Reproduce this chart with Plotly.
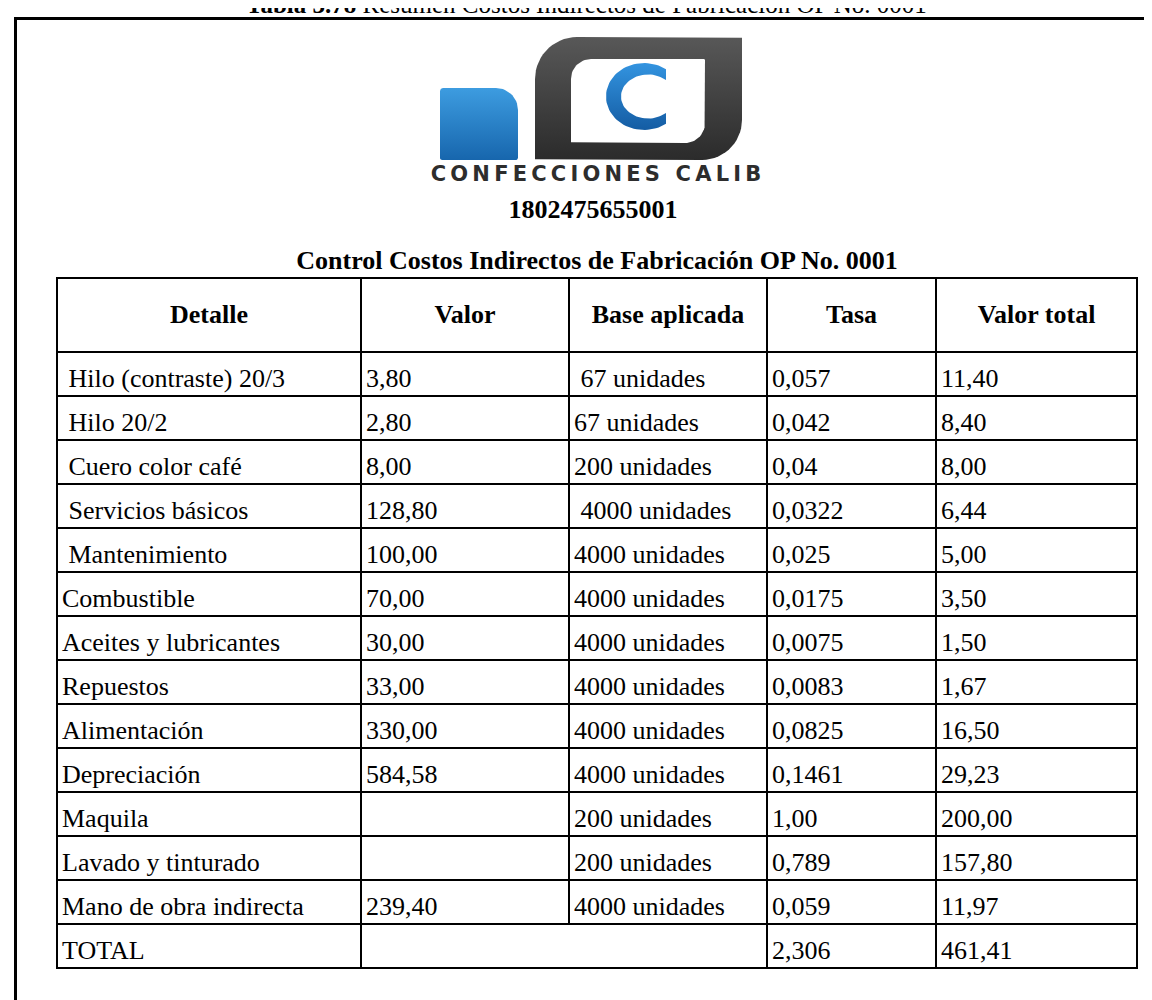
import numpy as np
import plotly.graph_objects as go

# ---------------- data ----------------
caption = "<b>Tabla 3.78</b> Resumen Costos Indirectos de Fabricación OP No. 0001"
company = "CONFECCIONES CALIB"
ruc = "1802475655001"
title = "Control Costos Indirectos de Fabricación OP No. 0001"

headers = ["Detalle", "Valor", "Base aplicada", "Tasa", "Valor total"]

detalle = ["\u00a0Hilo (contraste) 20/3", "\u00a0Hilo 20/2", "\u00a0Cuero color café",
           "\u00a0Servicios básicos", "\u00a0Mantenimiento", "Combustible",
           "Aceites y lubricantes", "Repuestos", "Alimentación", "Depreciación",
           "Maquila", "Lavado y tinturado", "Mano de obra indirecta", "TOTAL"]
valor = ["3,80", "2,80", "8,00", "128,80", "100,00", "70,00", "30,00", "33,00",
         "330,00", "584,58", "", "", "239,40", ""]
base_aplicada = ["\u00a067 unidades", "67 unidades", "200 unidades", "\u00a04000 unidades",
                 "4000 unidades", "4000 unidades", "4000 unidades", "4000 unidades",
                 "4000 unidades", "4000 unidades", "200 unidades", "200 unidades",
                 "4000 unidades", ""]
tasa = ["0,057", "0,042", "0,04", "0,0322", "0,025", "0,0175", "0,0075", "0,0083",
        "0,0825", "0,1461", "1,00", "0,789", "0,059", "2,306"]
valor_total = ["11,40", "8,40", "8,00", "6,44", "5,00", "3,50", "1,50", "1,67",
               "16,50", "29,23", "200,00", "157,80", "11,97", "461,41"]

columns = [detalle, valor, base_aplicada, tasa, valor_total]

# ---------------- layout / style ----------------
W, H = 1152, 1000
table_left = 49
col_widths = [304, 208, 198, 169, 201]
table_top = 270
header_h = 74
row_h = 44
merged_last_row = (1, 2)   # TOTAL row: Valor + Base aplicada merged
cell_pad = 5
text_dy = 6
FONT = "Liberation Serif"
FS = 26

col_edges = table_left + np.concatenate([[0], np.cumsum(col_widths)])
n_rows = len(detalle)
row_edges = table_top + header_h + row_h * np.arange(n_rows + 1)
row_edges = np.concatenate([[table_top], row_edges])

fig = go.Figure()

# ---------------- frame ----------------
frame_x = [7.5, 7.5, None, 6, W + 5]
frame_y = [9, H + 5, None, 10.5, 10.5]
fig.add_trace(go.Scatter(x=frame_x, y=frame_y, mode="lines",
                         line=dict(color="black", width=3), hoverinfo="skip",
                         cliponaxis=False))

# ---------------- logo ----------------
def rrect(x0, y0, x1, y1, r, n=16):
    tl, tr, br, bl = r
    pts = []
    specs = [((x0 + tl, y0 + tl), tl, np.pi, 1.5 * np.pi),
             ((x1 - tr, y0 + tr), tr, 1.5 * np.pi, 2 * np.pi),
             ((x1 - br, y1 - br), br, 0, 0.5 * np.pi),
             ((x0 + bl, y1 - bl), bl, 0.5 * np.pi, np.pi)]
    for (cx, cy), rad, a0, a1 in specs:
        t = np.linspace(a0, a1, n)
        pts += [(cx + rad * np.cos(a), cy + rad * np.sin(a)) for a in t]
    pts.append(pts[0])
    xs, ys = zip(*pts)
    return list(xs), list(ys)

def fill_shape(xs, ys, c_top, c_bot, y_top, y_bot):
    fig.add_trace(go.Scatter(
        x=xs, y=ys, mode="lines", fill="toself", line=dict(width=0),
        fillgradient=dict(type="vertical", colorscale=[[0, c_top], [1, c_bot]],
                          start=y_top, stop=y_bot),
        hoverinfo="skip"))

# blue block
bx, by = rrect(432, 80, 510, 152, (3, 22, 2, 2))
fill_shape(bx, by, "#3d9ce0", "#1766ad", 80, 152)
# dark frame
dx, dy = rrect(527, 29, 734, 152, (42, 1, 40, 1))
fill_shape(dx, dy, "#585858", "#2b2b2b", 29, 152)
# inner white
ix, iy = rrect(563, 51, 697, 135, (20, 1, 20, 1))
fig.add_trace(go.Scatter(x=ix, y=iy, mode="lines", fill="toself",
                         fillcolor="white", line=dict(width=0), hoverinfo="skip"))
# blue C (outer and inner elliptical contours, open on the right)
ocx, ocy, orx, ory = 636, 88.5, 38, 33.5
icx, icy, irx, iry = 640, 88.5, 27, 22
tip_x = 658
a_out = np.arccos((tip_x - ocx) / orx)
a_in = np.arccos((tip_x - icx) / irx)
t_out = np.linspace(a_out, 2 * np.pi - a_out, 60)
t_in = np.linspace(2 * np.pi - a_in, a_in, 60)
c_x = list(ocx + orx * np.cos(t_out)) + list(icx + irx * np.cos(t_in))
c_y = list(ocy - ory * np.sin(t_out)) + list(icy - iry * np.sin(t_in))
c_x.append(c_x[0]); c_y.append(c_y[0])
fill_shape(c_x, c_y, "#3394e0", "#145ca3", ocy - ory, ocy + ory)

# company name
thin = "\u2009"
company_txt = thin.join(list(company))
fig.add_trace(go.Scatter(x=[588], y=[167.5], mode="text", text=[company_txt],
                         textposition="middle center",
                         textfont=dict(family="DejaVu Sans", size=21, color="#2d2d2d",
                                       weight="bold"),
                         hoverinfo="skip", cliponaxis=False))

# ---------------- titles ----------------
# caption sits above the page edge (only its lower part is visible)
fig.add_annotation(x=578, xref="x", y=1 + 3.5 / H, yref="paper", text=caption,
                   showarrow=False, xanchor="center", yanchor="middle",
                   font=dict(family=FONT, size=25, color="black"))
fig.add_trace(go.Scatter(x=[585], y=[203], mode="text", text=[ruc],
                         textposition="middle center",
                         textfont=dict(family=FONT, size=26, color="black", weight="bold"),
                         hoverinfo="skip", cliponaxis=False))
fig.add_trace(go.Scatter(x=[(col_edges[0] + col_edges[-1]) / 2], y=[254], mode="text",
                         text=[title], textposition="middle center",
                         textfont=dict(family=FONT, size=26, color="black", weight="bold"),
                         hoverinfo="skip", cliponaxis=False))

# ---------------- table grid ----------------
gx, gy = [], []
for yv in row_edges:
    gx += [col_edges[0] - 1, col_edges[-1] + 1, None]
    gy += [yv, yv, None]
for i, xv in enumerate(col_edges):
    y_end = row_edges[-2] if i == merged_last_row[1] else row_edges[-1]
    gx += [xv, xv, None]
    gy += [row_edges[0], y_end, None]
fig.add_trace(go.Scatter(x=gx, y=gy, mode="lines", line=dict(color="black", width=2),
                         hoverinfo="skip", cliponaxis=False))

# header text
centers = (col_edges[:-1] + col_edges[1:]) / 2
fig.add_trace(go.Scatter(x=centers, y=[(row_edges[0] + row_edges[1]) / 2 + 1] * len(headers),
                         mode="text", text=headers, textposition="middle center",
                         textfont=dict(family=FONT, size=FS, color="black", weight="bold"),
                         hoverinfo="skip", cliponaxis=False))

# body text
row_centers = (row_edges[1:-1] + row_edges[2:]) / 2 + text_dy
for j, col in enumerate(columns):
    fig.add_trace(go.Scatter(x=[col_edges[j] + cell_pad] * n_rows, y=row_centers,
                             mode="text", text=col, textposition="middle right",
                             textfont=dict(family=FONT, size=FS, color="black"),
                             hoverinfo="skip", cliponaxis=False))

fig.update_layout(
    width=W, height=H, margin=dict(l=0, r=0, t=0, b=0),
    paper_bgcolor="white", plot_bgcolor="white", showlegend=False,
    xaxis=dict(range=[0, W], visible=False, fixedrange=True),
    yaxis=dict(range=[H, 0], visible=False, fixedrange=True),
)

fig.write_html("out.html")
